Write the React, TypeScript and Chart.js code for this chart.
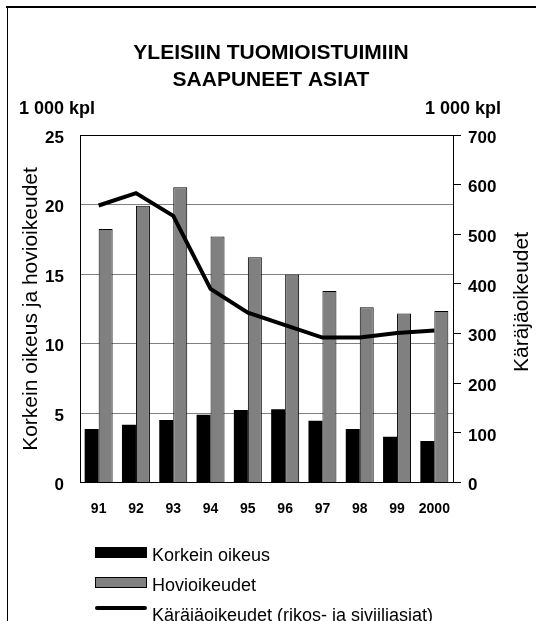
import React, { useEffect, useRef } from "react";
import { Chart, registerables } from "chart.js";

Chart.register(...registerables);

const years = ["91", "92", "93", "94", "95", "96", "97", "98", "99", "2000"];
const korkeinOikeus = [3.85, 4.16, 4.5, 4.88, 5.22, 5.27, 4.45, 3.85, 3.3, 2.99];
const hovioikeudet = [18.23, 19.91, 21.25, 17.7, 16.21, 14.96, 13.77, 12.61, 12.15, 12.33];
const karajaoikeudet = [558, 583, 537, 390, 342, 317, 292, 292, 301, 306];
const leftTicks = [0, 5, 10, 15, 20, 25];
const rightTicks = [0, 100, 200, 300, 400, 500, 600, 700];

const titleLines = ["YLEISIIN TUOMIOISTUIMIIN", "SAAPUNEET ASIAT"];
const unitLabel = "1 000 kpl";
const leftTitle = "Korkein oikeus ja hovioikeudet";
const rightTitle = "Käräjäoikeudet";
const legendLabels = [
  "Korkein oikeus",
  "Hovioikeudet",
  "Käräjäoikeudet (rikos- ja siviiliasiat)",
];

const FONT = '"Liberation Sans", Arial, sans-serif';
const GRAY = "#808080";

const decorPlugin = {
  id: "decor",
  afterDraw(chart: any) {
    const ctx = chart.ctx as CanvasRenderingContext2D;
    ctx.save();
    ctx.fillStyle = "#000";
    // outer frame (top and left)
    ctx.fillRect(6, 6, 530, 2);
    ctx.fillRect(7, 6, 1, 615);

    // title
    ctx.font = `bold 21px ${FONT}`;
    ctx.textAlign = "center";
    ctx.textBaseline = "middle";
    ctx.fillText(titleLines[0], 271, 53);
    ctx.fillText(titleLines[1], 271, 80);

    // unit labels
    ctx.font = `bold 18px ${FONT}`;
    ctx.textAlign = "left";
    ctx.fillText(unitLabel, 19, 109.5);
    ctx.textAlign = "right";
    ctx.fillText(unitLabel, 501, 109.5);

    // axis titles
    ctx.font = `21px ${FONT}`;
    ctx.textAlign = "center";
    ctx.save();
    ctx.translate(31, 309);
    ctx.rotate(-Math.PI / 2);
    ctx.fillText(leftTitle, 0, 0);
    ctx.restore();
    ctx.save();
    ctx.translate(522, 302);
    ctx.rotate(-Math.PI / 2);
    ctx.fillText(rightTitle, 0, 0);
    ctx.restore();

    // legend
    ctx.font = `18px ${FONT}`;
    ctx.textAlign = "left";
    ctx.textBaseline = "alphabetic";
    ctx.fillStyle = "#000";
    ctx.fillRect(95, 547, 52, 11);
    ctx.fillText(legendLabels[0], 152, 561);

    ctx.fillStyle = GRAY;
    ctx.fillRect(95, 577, 52, 11);
    ctx.strokeStyle = "#000";
    ctx.lineWidth = 1;
    ctx.strokeRect(95.5, 577.5, 51, 10);
    ctx.fillStyle = "#000";
    ctx.fillText(legendLabels[1], 152, 591);

    ctx.beginPath();
    ctx.lineWidth = 4;
    ctx.lineCap = "round";
    ctx.moveTo(97, 608);
    ctx.lineTo(145, 608);
    ctx.stroke();
    ctx.fillText(legendLabels[2], 152, 621);
    ctx.restore();
  },
};

export default function App() {
  const ref = useRef<HTMLCanvasElement | null>(null);

  useEffect(() => {
    if (!ref.current) return;
    const chart = new Chart(ref.current, {
      type: "bar",
      data: {
        labels: years,
        datasets: [
          {
            type: "line",
            label: legendLabels[2],
            data: karajaoikeudet,
            yAxisID: "y2",
            borderColor: "#000",
            borderWidth: 4,
            pointRadius: 0,
            tension: 0,
            fill: false,
            order: 0,
          } as any,
          {
            label: legendLabels[0],
            data: korkeinOikeus,
            yAxisID: "y",
            backgroundColor: "#000",
            borderWidth: 0,
            categoryPercentage: 0.75,
            barPercentage: 1,
            order: 1,
          },
          {
            label: legendLabels[1],
            data: hovioikeudet,
            yAxisID: "y",
            backgroundColor: GRAY,
            borderColor: "#000",
            borderWidth: 1,
            categoryPercentage: 0.75,
            barPercentage: 1,
            order: 1,
          },
        ],
      },
      options: {
        responsive: false,
        animation: false,
        devicePixelRatio: 1,
        layout: { padding: { left: 0, right: 0, top: 135, bottom: 98.5 } },
        plugins: {
          legend: { display: false },
          title: { display: false },
          tooltip: { enabled: false },
        },
        scales: {
          x: {
            grid: { display: false, drawTicks: false },
            border: { display: true, color: "#000", width: 1 },
            ticks: {
              color: "#000",
              font: { family: FONT, size: 14, weight: "bold" },
              padding: 18,
              maxRotation: 0,
              autoSkip: false,
            },
            afterFit(scale: any) {
              scale.height = 40;
            },
          },
          y: {
            position: "left",
            min: leftTicks[0],
            max: leftTicks[leftTicks.length - 1],
            afterBuildTicks(scale: any) {
              scale.ticks = leftTicks.map((v) => ({ value: v }));
            },
            grid: {
              drawTicks: false,
              color: (c: any) => (c.tick && c.tick.value === 25 ? "#000" : GRAY),
              lineWidth: 1,
            },
            border: { display: true, color: "#000", width: 1 },
            ticks: {
              color: "#000",
              font: { family: FONT, size: 17, weight: "bold" },
              padding: 16,
              labelOffset: 3,
            },
            afterFit(scale: any) {
              scale.width = 80;
            },
          },
          y2: {
            position: "right",
            min: rightTicks[0],
            max: rightTicks[rightTicks.length - 1],
            afterBuildTicks(scale: any) {
              scale.ticks = rightTicks.map((v) => ({ value: v }));
            },
            grid: {
              drawOnChartArea: false,
              drawTicks: true,
              tickLength: 8,
              color: "#000",
            },
            border: { display: true, color: "#000", width: 1 },
            ticks: {
              color: "#000",
              font: { family: FONT, size: 17, weight: "bold" },
              padding: 7,
              labelOffset: 3,
            },
            afterFit(scale: any) {
              scale.width = 83;
            },
          },
        },
      },
      plugins: [decorPlugin],
    });
    return () => chart.destroy();
  }, []);

  return (
    <div style={{ position: "absolute", left: 0, top: 0, width: 536, height: 621, background: "#fff" }}>
      <canvas ref={ref} width={536} height={621} style={{ display: "block" }} />
    </div>
  );
}
